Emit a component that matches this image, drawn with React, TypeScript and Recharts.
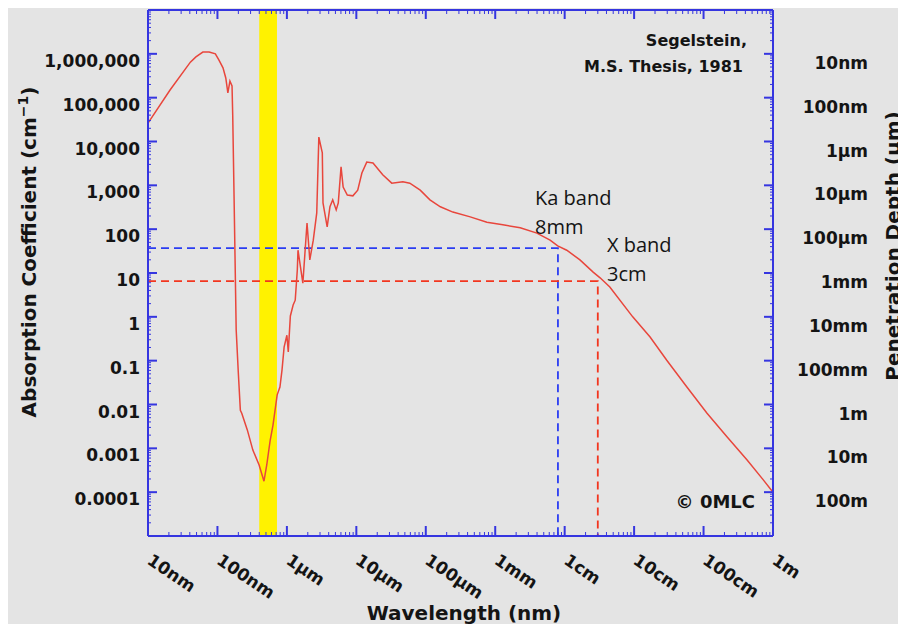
import { LineChart, Line, XAxis, YAxis, ReferenceArea } from 'recharts';

// log10 of wavelength (nm) and log10 of absorption coefficient (cm^-1)
const wavelengthLog = [1.00, 1.32, 1.61, 1.69, 1.79, 1.88, 1.97, 2.02, 2.08, 2.12, 2.15, 2.18, 2.21, 2.22, 2.24, 2.27, 2.30, 2.33, 2.35, 2.43, 2.51, 2.60, 2.67, 2.71, 2.76, 2.80, 2.86, 2.90, 2.93, 2.96, 3.00, 3.02, 3.05, 3.09, 3.12, 3.15, 3.16, 3.23, 3.29, 3.33, 3.38, 3.43, 3.46, 3.51, 3.52, 3.58, 3.62, 3.66, 3.71, 3.74, 3.78, 3.81, 3.87, 3.95, 4.02, 4.08, 4.15, 4.24, 4.38, 4.51, 4.67, 4.77, 4.92, 5.06, 5.21, 5.39, 5.64, 5.88, 6.11, 6.36, 6.60, 6.79, 6.90, 7.03, 7.22, 7.41, 7.51, 7.65, 7.98, 8.23, 8.47, 8.76, 9.05, 9.34, 9.63, 9.86, 10.00];
const absorptionLog = [4.42, 5.18, 5.81, 5.93, 6.04, 6.04, 6.00, 5.86, 5.68, 5.45, 5.11, 5.38, 5.27, 4.60, 2.67, -0.30, -1.26, -2.13, -2.20, -2.58, -3.04, -3.38, -3.75, -3.38, -2.81, -2.47, -1.78, -1.60, -1.21, -0.69, -0.42, -0.80, 0.02, 0.27, 0.38, 1.07, 1.52, 0.77, 2.14, 1.30, 1.75, 2.37, 4.10, 3.74, 2.60, 2.05, 2.51, 2.67, 2.44, 2.60, 3.42, 2.96, 2.78, 2.76, 2.89, 3.28, 3.53, 3.51, 3.24, 3.05, 3.08, 3.05, 2.89, 2.67, 2.51, 2.39, 2.28, 2.16, 2.10, 2.03, 1.91, 1.75, 1.62, 1.52, 1.30, 1.02, 0.89, 0.68, 0.00, -0.46, -0.99, -1.60, -2.20, -2.74, -3.27, -3.72, -4.00];

// visible band (nm)
const visibleBand = [400, 720];
// radar bands: wavelength (nm), absorption (cm^-1)
const kaBand = { wavelength: 8e6, alpha: 37 };
const xBand = { wavelength: 3e7, alpha: 6.5 };

const xMajor = [1, 2, 3, 4, 5, 6, 7, 8, 9, 10];
const xLabels = ['10nm', '100nm', '1µm', '10µm', '100µm', '1mm', '1cm', '10cm', '100cm', '1m'];
const yMajor = [-4, -3, -2, -1, 0, 1, 2, 3, 4, 5, 6];
const leftLabels = ['0.0001', '0.001', '0.01', '0.1', '1', '10', '100', '1,000', '10,000', '100,000', '1,000,000'];
const rightLabels = ['100m', '10m', '1m', '100mm', '10mm', '1mm', '100µm', '10µm', '1µm', '100nm', '10nm'];

const minorsFor = (decades: number[]) =>
  decades.flatMap((d) => [2, 3, 4, 5, 6, 7, 8, 9].map((k) => d + Math.log10(k)));
const xTicks = [...xMajor, ...minorsFor([1, 2, 3, 4, 5, 6, 7, 8, 9])];
const yTicks = [...yMajor, ...minorsFor([-5, -4, -3, -2, -1, 0, 1, 2, 3, 4, 5, 6])];

const curve = wavelengthLog.map((x, i) => ({ x, y: absorptionLog[i] }));
const kaX = Math.log10(kaBand.wavelength);
const kaY = Math.log10(kaBand.alpha);
const xbX = Math.log10(xBand.wavelength);
const xbY = Math.log10(xBand.alpha);
const kaLine = [{ x: 1, y: kaY }, { x: kaX, y: kaY }, { x: kaX, y: -5 }];
const xbLine = [{ x: 1, y: xbY }, { x: xbX, y: xbY }, { x: xbX, y: -5 }];

const FRAME = '#3535e0';
const INK = '#141414';
const tickFont = { fontFamily: 'DejaVu Sans', fontWeight: 700, fontSize: 17, fill: INK };

function LeftTick({ x, y, payload }: any) {
  const v = payload.value;
  const major = Number.isInteger(v);
  return (
    <g>
      <line x1={x} y1={y} x2={x + (major ? 9 : 3)} y2={y} stroke={FRAME} strokeWidth={major ? 2 : 1} />
      {major && (
        <text x={x - 8} y={y + 13} textAnchor="end" {...tickFont}>
          {leftLabels[yMajor.indexOf(v)]}
        </text>
      )}
    </g>
  );
}

function RightTick({ x, y, payload }: any) {
  const v = payload.value;
  const major = Number.isInteger(v);
  return (
    <g>
      <line x1={x - (major ? 9 : 3)} y1={y} x2={x} y2={y} stroke={FRAME} strokeWidth={major ? 2 : 1} />
      {major && (
        <text x={x + 95} y={y + 15} textAnchor="end" {...tickFont}>
          {rightLabels[yMajor.indexOf(v)]}
        </text>
      )}
    </g>
  );
}

function BottomTick({ x, y, payload }: any) {
  const v = payload.value;
  const major = Number.isInteger(v);
  const tx = x - 2;
  const ty = y + 27;
  return (
    <g>
      <line x1={x} y1={y} x2={x} y2={y - (major ? 10 : 4)} stroke={FRAME} strokeWidth={major ? 2 : 1} />
      {major && (
        <text x={tx} y={ty} textAnchor="start" transform={`rotate(34 ${tx} ${ty})`} {...tickFont}>
          {xLabels[xMajor.indexOf(v)]}
        </text>
      )}
    </g>
  );
}

function TopTick({ x, y, payload }: any) {
  const major = Number.isInteger(payload.value);
  return <line x1={x} y1={y} x2={x} y2={y + (major ? 9 : 4)} stroke={FRAME} strokeWidth={major ? 2 : 1} />;
}

const axisLine = { stroke: FRAME, strokeWidth: 2 };
const titleFont = { fontFamily: 'DejaVu Sans', fontWeight: 700, fontSize: 20, fill: INK };
const noteFont = { fontFamily: 'Open Sans', fontSize: 20, fill: INK };

export default function App() {
  return (
    <div style={{ position: 'relative', width: 898, height: 616, background: '#e4e4e4' }}>
      <style>{'body{overflow:hidden}'}</style>
      <LineChart width={898} height={616} margin={{ top: 0, right: 0, bottom: 0, left: 0 }}>
        <XAxis xAxisId="bottom" dataKey="x" type="number" domain={[1, 10]} ticks={xTicks} interval={0}
          height={88} tickSize={0} tickMargin={0} tickLine={false} axisLine={axisLine} tick={<BottomTick />} />
        <XAxis xAxisId="top" orientation="top" dataKey="x" type="number" domain={[1, 10]} ticks={xTicks} interval={0}
          height={2} tickSize={0} tickMargin={0} tickLine={false} axisLine={axisLine} tick={<TopTick />} />
        <YAxis yAxisId="left" type="number" domain={[-5, 7]} ticks={yTicks} interval={0}
          width={140} tickSize={0} tickMargin={0} tickLine={false} axisLine={axisLine} tick={<LeftTick />} />
        <YAxis yAxisId="right" orientation="right" type="number" domain={[-5, 7]} ticks={yTicks} interval={0}
          width={133} tickSize={0} tickMargin={0} tickLine={false} axisLine={axisLine} tick={<RightTick />} />
        <ReferenceArea xAxisId="bottom" yAxisId="left" x1={Math.log10(visibleBand[0])} x2={Math.log10(visibleBand[1])}
          y1={-5} y2={7} fill="#fff200" fillOpacity={1} stroke="none" />
        <Line xAxisId="top" yAxisId="right" data={curve} dataKey="y" stroke="none" dot={false} isAnimationActive={false} />
        <Line xAxisId="bottom" yAxisId="left" data={kaLine} dataKey="y" stroke="#2a3cf2" strokeWidth={1.8}
          strokeDasharray="8 5" dot={false} isAnimationActive={false} />
        <Line xAxisId="bottom" yAxisId="left" data={xbLine} dataKey="y" stroke="#f2361f" strokeWidth={1.8}
          strokeDasharray="8 5" dot={false} isAnimationActive={false} />
        <Line xAxisId="bottom" yAxisId="left" data={curve} dataKey="y" stroke="#e8463c" strokeWidth={1.5}
          dot={false} isAnimationActive={false} />
      </LineChart>
      <svg width={898} height={616} style={{ position: 'absolute', left: 0, top: 0, pointerEvents: 'none' }}>
        <text transform="translate(28 244) rotate(-90)" textAnchor="middle" {...titleFont}>
          Absorption Coefficient (cm<tspan fontSize={14} dy={-8}>−1</tspan><tspan dy={8}>)</tspan>
        </text>
        <text transform="translate(892 238) rotate(-90)" textAnchor="middle" {...titleFont}>
          Penetration Depth (µm)
        </text>
        <text x={456} y={612} textAnchor="middle" {...titleFont}>Wavelength (nm)</text>
        <text x={739} y={38} textAnchor="end" {...tickFont} fontSize={16}>Segelstein,</text>
        <text x={735} y={64} textAnchor="end" {...tickFont} fontSize={16}>M.S. Thesis, 1981</text>
        <text x={527} y={197} {...noteFont}>Ka band</text>
        <text x={527} y={226} {...noteFont}>8mm</text>
        <text x={599} y={244} {...noteFont}>X band</text>
        <text x={599} y={273} {...noteFont}>3cm</text>
        <text x={747} y={500} textAnchor="end" {...tickFont} fontSize={18}>© 0MLC</text>
      </svg>
    </div>
  );
}
